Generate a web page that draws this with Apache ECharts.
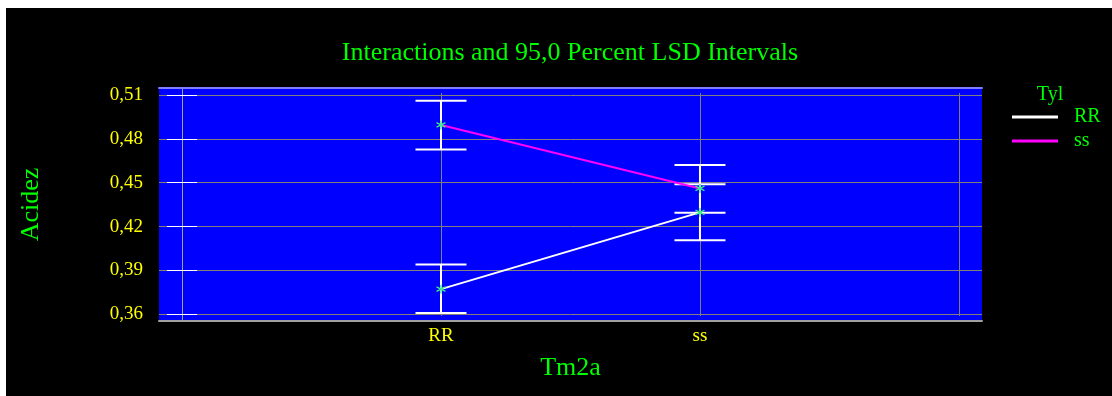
<!DOCTYPE html>
<html>
<head>
<meta charset="utf-8">
<script src="https://cdn.jsdelivr.net/npm/echarts@6/dist/echarts.min.js"></script>
<style>
  html, body { margin: 0; padding: 0; background: #ffffff; }
  #frame { position: absolute; left: 6px; top: 8px; width: 1106px; height: 388px; background: #000000; }
  #chart { position: absolute; left: 0; top: 0; width: 1112px; height: 396px; }
</style>
</head>
<body>
<div id="frame"></div>
<div id="chart"></div>
<script>
// Factor levels on the horizontal axis (Tm2a) and grouping factor (Tyl)
const categories = ['RR', 'ss'];
const groups = ['RR', 'ss'];
const groupColors = ['#ffffff', '#ff00ff'];

// Group means per Tm2a level
const meansRR = [0.3772, 0.4297];
const meansSS = [0.4895, 0.4461];
// 95% LSD interval bounds per Tm2a level
const lowRR = [0.3609, 0.4107];
const highRR = [0.3940, 0.4490];
const lowSS = [0.4728, 0.4294];
const highSS = [0.5061, 0.4621];

// Axis tick values
const yTicks = [0.36, 0.39, 0.42, 0.45, 0.48, 0.51];
const xGridLines = [0, 1, 2, 3];

const xMin = -0.0888, xMax = 3.089;
const yMin = 0.3554, yMax = 0.5148;

const serif = '"Liberation Serif", "DejaVu Serif", serif';
const green = '#00ff00';
const yellow = '#ffff00';
const gridGrey = '#808080';

const xPos = categories.map((c, i) => i + 1);
const toLine = (vals) => vals.map((v, i) => [xPos[i], v]);
const toBars = (lo, hi) => lo.map((v, i) => [xPos[i], v, hi[i]]);

const starPath = 'path://M5,0L5,10M0.7,2.5L9.3,7.5M0.7,7.5L9.3,2.5';

function errorBar(params, api) {
  const x = api.value(0);
  const pLo = api.coord([x, api.value(1)]);
  const pHi = api.coord([x, api.value(2)]);
  const hw = 25.5;
  const st = { stroke: '#ffffff', lineWidth: 2 };
  return {
    type: 'group',
    children: [
      { type: 'line', shape: { x1: pLo[0], y1: pLo[1], x2: pHi[0], y2: pHi[1] }, style: st },
      { type: 'line', shape: { x1: pLo[0] - hw, y1: pLo[1], x2: pLo[0] + hw, y2: pLo[1] }, style: st },
      { type: 'line', shape: { x1: pHi[0] - hw, y1: pHi[1], x2: pHi[0] + hw, y2: pHi[1] }, style: st }
    ]
  };
}

const chart = echarts.init(document.getElementById('chart'), null, { renderer: 'canvas' });

const lineSeries = (name, data, color) => ({
  name: name,
  type: 'line',
  xAxisIndex: 0,
  yAxisIndex: 0,
  data: data,
  z: 4,
  lineStyle: { color: color, width: 2 },
  symbol: starPath,
  symbolSize: 9,
  itemStyle: { color: 'transparent', borderColor: '#40e890', borderWidth: 1.4 },
  emphasis: { disabled: true },
  animation: false
});

chart.setOption({
  backgroundColor: 'transparent',
  animation: false,
  title: {
    text: 'Interactions and 95,0 Percent LSD Intervals',
    left: 570, top: 40, textAlign: 'center', padding: 0,
    textStyle: { color: green, fontFamily: serif, fontSize: 26, fontWeight: 'normal' }
  },
  graphic: [{
    type: 'text', x: 1050, y: 95,
    style: { text: 'Tyl', fill: green, font: '20px ' + serif, textAlign: 'center', textVerticalAlign: 'middle' }
  }],
  legend: {
    orient: 'vertical', left: 1012, top: 107, padding: 0,
    itemWidth: 46, itemHeight: 3, itemGap: 4, icon: 'rect',
    data: groups.map((g, i) => ({ name: g, itemStyle: { color: groupColors[i], borderWidth: 0 } })),
    textStyle: { color: green, fontFamily: serif, fontSize: 20, lineHeight: 18, padding: [0, 0, 0, 11] }
  },
  grid: [
    { left: 159, top: 88, width: 823, height: 233, show: true, backgroundColor: '#0000ff', borderWidth: 0 },
    { left: 159, top: 93, width: 823, height: 223, show: false }
  ],
  xAxis: [
    {
      type: 'value', gridIndex: 0, position: 'bottom', min: xMin, max: xMax,
      axisLine: { show: true, lineStyle: { color: '#a0a0a0', width: 2 } },
      axisTick: { show: false, customValues: [1, 2] },
      splitLine: { show: false },
      axisLabel: {
        customValues: [1, 2], color: yellow, fontFamily: serif, fontSize: 19, margin: 6,
        formatter: (v) => categories[Math.round(v) - 1] || ''
      },
      name: 'Tm2a', nameLocation: 'middle', nameGap: 34,
      nameTextStyle: { color: green, fontFamily: serif, fontSize: 26 }
    },
    {
      type: 'value', gridIndex: 1, min: xMin, max: xMax,
      axisLine: { show: false },
      axisTick: { show: false, customValues: xGridLines },
      axisLabel: { show: false },
      splitLine: { show: true, lineStyle: { color: gridGrey, width: 1 } }
    },
    {
      type: 'value', gridIndex: 0, position: 'top', min: xMin, max: xMax,
      axisLine: { show: true, lineStyle: { color: '#8080ff', width: 2 } },
      axisTick: { show: false }, axisLabel: { show: false }, splitLine: { show: false }
    }
  ],
  yAxis: [
    {
      type: 'value', gridIndex: 0, position: 'left', min: yMin, max: yMax,
      axisLine: { show: true, lineStyle: { color: '#b0b0ff', width: 1 } },
      axisTick: { show: true, inside: true, length: 15, customValues: yTicks, lineStyle: { color: '#ffffff', width: 1 } },
      axisLabel: {
        customValues: yTicks, color: yellow, fontFamily: serif, fontSize: 19, margin: 16,
        formatter: (v) => v.toFixed(2).replace('.', ',')
      },
      splitLine: { show: true, lineStyle: { color: gridGrey, width: 1 } },
      name: 'Acidez', nameLocation: 'middle', nameGap: 115,
      nameTextStyle: { color: green, fontFamily: serif, fontSize: 26 }
    },
    {
      type: 'value', gridIndex: 0, position: 'right', min: yMin, max: yMax,
      axisLine: { show: true, lineStyle: { color: '#a0a0a0', width: 1 } },
      axisTick: { show: true, inside: true, length: 15, customValues: yTicks, lineStyle: { color: '#ffffff', width: 1 } },
      axisLabel: { show: false },
      splitLine: { show: false }
    },
    { type: 'value', gridIndex: 1, show: false, min: yMin, max: yMax, splitLine: { show: false } }
  ],
  series: [
    {
      name: 'RR interval', type: 'custom', xAxisIndex: 0, yAxisIndex: 0, z: 3,
      renderItem: errorBar, data: toBars(lowRR, highRR), silent: true
    },
    {
      name: 'ss interval', type: 'custom', xAxisIndex: 0, yAxisIndex: 0, z: 3,
      renderItem: errorBar, data: toBars(lowSS, highSS), silent: true
    },
    lineSeries(groups[0], toLine(meansRR), groupColors[0]),
    lineSeries(groups[1], toLine(meansSS), groupColors[1])
  ]
});
</script>
</body>
</html>
